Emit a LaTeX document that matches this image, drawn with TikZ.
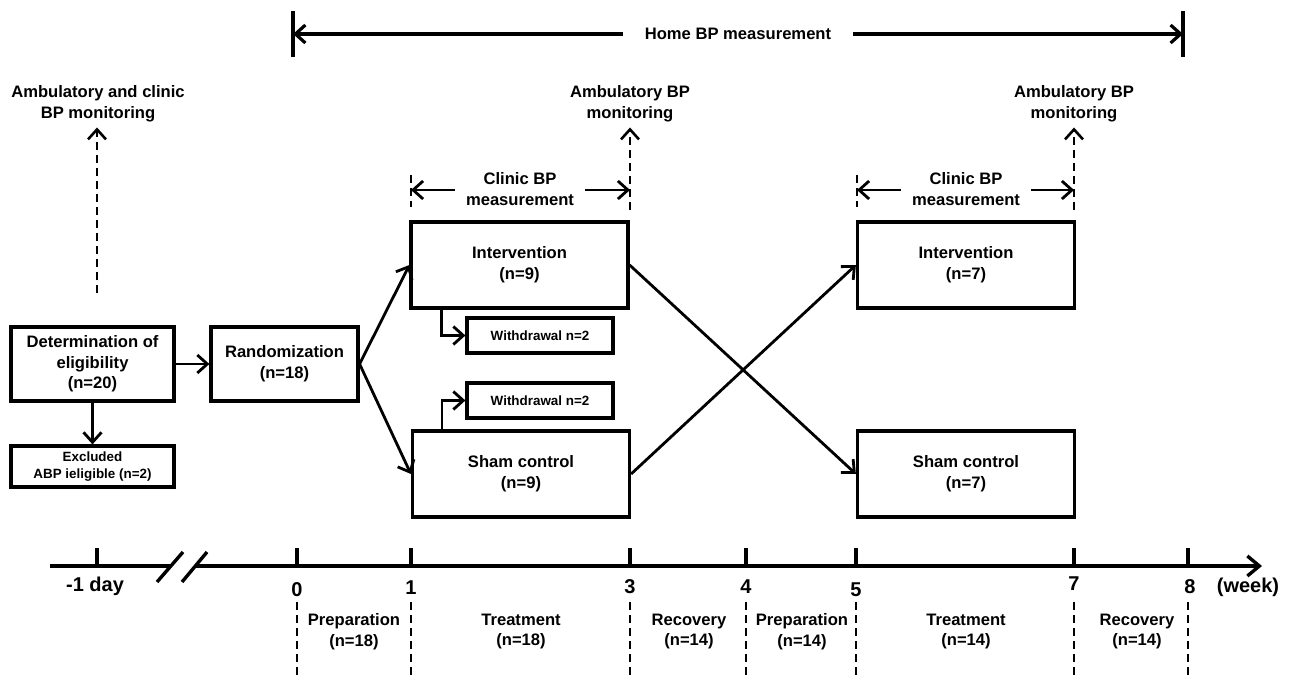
\documentclass[tikz,border=0pt]{standalone}
\usepackage{fontspec}
\setmainfont{Liberation Sans}
\usetikzlibrary{arrows.meta,positioning}

\begin{document}
\begin{tikzpicture}[x=0.5pt, y=-0.5pt, font=\fontsize{8.3}{10.3}\selectfont\bfseries, line width=1.4pt]
\tikzstyle{box}=[rectangle, draw, line width=1.6pt, align=center, inner sep=2pt]
\tikzstyle{bigbox}=[box, minimum width=108.5pt, minimum height=43pt]
\tikzstyle{wdbox}=[box, minimum width=73pt, minimum height=17.5pt, font=\fontsize{6.7}{8}\selectfont\bfseries]
\tikzstyle{txt}=[align=center, inner sep=2pt]
\tikzstyle{weeknum}=[inner sep=0pt, font=\fontsize{10}{11}\selectfont\bfseries]
\tikzstyle{arr}=[-{Straight Barb[length=5pt,width=9pt]}]
\tikzstyle{dashln}=[line width=1.3pt, dash pattern=on 4pt off 2.5pt]
\useasboundingbox (0,0) rectangle (1295,679);

% boxes
\node[box, minimum width=81.5pt, minimum height=37pt] (elig) at (92.5,364) {Determination of\\eligibility\\(n=20)};
\node[box, minimum width=81.5pt, minimum height=20.5pt, font=\fontsize{6.7}{8.3}\selectfont\bfseries] (excl) at (92.5,466.5) {Excluded\\ABP ieligible (n=2)};
\node[box, minimum width=73.5pt, minimum height=37pt] (rand) at (284.5,364) {Randomization\\(n=18)};
\node[bigbox] (int1) at (519.5,265) {Intervention\\(n=9)};
\node[bigbox] (sham1) at (521,474) {Sham control\\(n=9)};
\node[wdbox] (wd1) at (540,335.5) {Withdrawal n=2};
\node[wdbox] (wd2) at (540,400.5) {Withdrawal n=2};
\node[bigbox] (int2) at (966,265) {Intervention\\(n=7)};
\node[bigbox] (sham2) at (966,474) {Sham control\\(n=7)};

\draw[arr] (elig) -- (rand);
\draw[arr] (elig) -- (excl);
\draw[arr] (rand.east) -- (int1.west);
\draw[arr] (rand.east) -- (sham1.west);
\draw[arr] (int1.south west) ++(32,0) |- (wd1.west);
\draw[arr] (sham1.north west) ++(31,0) |- (wd2.west);
\draw[arr] (int1.east) -- (sham2.west);
\draw[arr] (sham1.east) -- (int2.west);

% home BP
\node[txt, inner sep=10pt] (home) at (738,34) {Home BP measurement};
\coordinate (hL) at (293,34);
\coordinate (hR) at (1183,34);
\draw[line width=1.7pt] (293,11) -- (293,57) (1183,11) -- (1183,57);
\draw[arr, line width=1.6pt] (home.west) -- (hL);
\draw[arr, line width=1.6pt] (home.east) -- (hR);

% ambulatory monitoring
\node[txt] (amb0) at (98,104) {Ambulatory and clinic\\BP monitoring};
\node[txt] (amb1) at (630,104) {Ambulatory BP\\monitoring};
\node[txt] (amb2) at (1074,104) {Ambulatory BP\\monitoring};
\coordinate (a0) at (97,293);
\coordinate (a1) at (630,210);
\coordinate (a2) at (1074,210);
\draw[arr, dashln] (a0) -- (amb0.south -| a0);
\draw[arr, dashln] (a1) -- (amb1.south);
\draw[arr, dashln] (a2) -- (amb2.south);

% clinic BP
\node[txt, inner sep=5pt] (clin1) at (520,189) {Clinic BP\\measurement};
\node[txt, inner sep=5pt] (clin2) at (966,189) {Clinic BP\\measurement};
\draw[dashln] (411,175) -- (411,207) (857,175) -- (857,207);
\coordinate (c1L) at (411,190);
\coordinate (c1R) at (630,190);
\coordinate (c2L) at (857,190);
\coordinate (c2R) at (1074,190);
\draw[arr] (clin1.west |- c1L) -- (c1L);
\draw[arr] (clin1.east |- c1R) -- (c1R);
\draw[arr] (clin2.west |- c2L) -- (c2L);
\draw[arr] (clin2.east |- c2R) -- (c2R);

% time axis
\coordinate (t0) at (50,566);
\coordinate (tb) at (170,566);
\coordinate (ta) at (195,566);
\coordinate (tend) at (1262,566);
\draw[line width=1.7pt] (t0) -- (tb);
\draw[line width=1.7pt, -{Straight Barb[length=6pt,width=10pt]}] (ta) -- (tend);
\draw[line width=1.7pt] (157,582) -- (183,552) (182,582) -- (207,552);
\foreach \x in {97,297,411,630,746,856,1074,1188}
  \draw[line width=1.7pt] (\x,548) -- (\x,566);
\foreach \x in {297,411,630,746,856,1074,1188}
  \draw[dashln] (\x,602) -- (\x,679);

\node[weeknum] (wm1) at (95,586) {-1 day};
\node[weeknum] (w0) at (297,590) {0};
\node[weeknum] (w1) at (411,588) {1};
\node[weeknum] (w3) at (630,587) {3};
\node[weeknum] (w4) at (746,587) {4};
\node[weeknum] (w5) at (856,590) {5};
\node[weeknum] (w7) at (1074,584) {7};
\node[weeknum] (w8) at (1190,587) {8};
\node[weeknum] (week) at (1248,587) {(week)};

% periods
\node[txt] (prep1) at (354,631.5) {Preparation\\(n=18)};
\node[txt] (treat1) at (521,631.5) {Treatment\\(n=18)};
\node[txt] (rec1) at (689,631.5) {Recovery\\(n=14)};
\node[txt] (prep2) at (802,631.5) {Preparation\\(n=14)};
\node[txt] (treat2) at (966,631.5) {Treatment\\(n=14)};
\node[txt] (rec2) at (1137,631.5) {Recovery\\(n=14)};
\end{tikzpicture}
\end{document}
